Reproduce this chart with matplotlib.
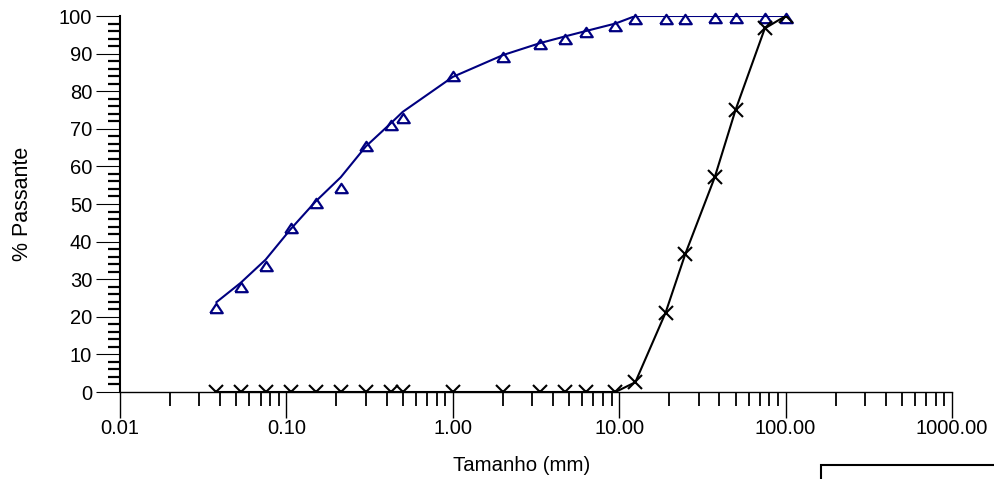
import numpy as np
import matplotlib
matplotlib.use("Agg")
import matplotlib.pyplot as plt
from matplotlib.ticker import FixedLocator, NullFormatter
from matplotlib.patches import Rectangle

plt.rcParams['font.family'] = ['Liberation Sans', 'DejaVu Sans']

# peneiras (mm)
tam_fino = [0.038, 0.053, 0.075, 0.106, 0.15, 0.212, 0.3, 0.425, 0.5, 1.0, 2.0,
            3.35, 4.75, 6.3, 9.5, 12.5, 19.0, 25.0, 37.5, 50.0, 75.0, 100.0]
pass_fino = [22.4, 27.9, 33.4, 43.6, 50.2, 54.2, 65.4, 71.1, 73.0, 84.0, 89.1,
             92.5, 94.0, 95.7, 97.3, 99.3, 99.3, 99.3, 99.4, 99.4, 99.4, 99.5]
ajuste_fino = [23.9, 29.0, 35.2, 43.3, 50.7, 57.1, 65.3, 71.5, 74.5, 83.8, 89.6,
               92.8, 94.6, 96.0, 98.0, 100.0, 100.0, 100.0, 100.0, 100.0, 100.0, 100.0]

tam_grosso = [0.038, 0.053, 0.075, 0.106, 0.15, 0.212, 0.3, 0.425, 0.5, 1.0, 2.0,
              3.35, 4.75, 6.3, 9.5, 12.5, 19.0, 25.0, 37.5, 50.0, 75.0, 100.0]
pass_grosso = [0, 0, 0, 0, 0, 0, 0, 0, 0, 0, 0,
               0, 0, 0, 0, 2.6, 21.1, 36.8, 57.1, 75.0, 96.7, 100.0]

xticks = [0.01, 0.1, 1, 10, 100, 1000]
xlabels = ['0.01', '0.10', '1.00', '10.00', '100.00', '1000.00']
yticks = list(range(0, 101, 10))

fig = plt.figure(figsize=[9.94, 4.79], dpi=100)
ax = fig.add_axes([120/994, 1-392/479, 832/994, 376/479])

navy = '#000080'
tri = [(-1, -0.75), (1, -0.75), (0, 0.75), (-1, -0.75)]

ax.plot(tam_fino, ajuste_fino, color=navy, lw=1.5, zorder=3)
ax.plot(tam_fino, pass_fino, ls='none', marker=tri, ms=9, mfc='none',
        mec=navy, mew=1.6, clip_on=False, zorder=4)
ax.plot(tam_grosso, pass_grosso, color='black', lw=1.5, marker='x', ms=10.5,
        mew=1.5, zorder=5)

ax.set_xscale('log')
ax.set_xlim(0.01, 1000)
ax.set_ylim(0, 100)

ax.spines['top'].set_visible(False)
ax.spines['right'].set_visible(False)
ax.spines['left'].set_linewidth(1.5)
ax.spines['bottom'].set_linewidth(1.0)

ax.xaxis.set_major_locator(FixedLocator(xticks))
ax.set_xticklabels(xlabels)
minx = [m * d for d in [0.01, 0.1, 1, 10, 100] for m in range(2, 10)]
ax.xaxis.set_minor_locator(FixedLocator(minx))
ax.xaxis.set_minor_formatter(NullFormatter())
ax.set_yticks(yticks)
ax.yaxis.set_minor_locator(FixedLocator([v for v in range(0, 101, 2) if v % 10]))

ax.tick_params(axis='x', which='major', direction='out', length=18.5, width=1.0,
               pad=1, labelsize=14.5)
ax.tick_params(axis='x', which='minor', direction='out', length=10, width=1.3)
ax.tick_params(axis='y', which='major', direction='out', length=17, width=0.8,
               pad=3, labelsize=14.5)
ax.tick_params(axis='y', which='minor', direction='out', length=9, width=1.6)

ax.set_xlabel('Tamanho (mm)', fontsize=14.7)
ax.set_ylabel('% Passante', fontsize=15.5)
ax.xaxis.set_label_coords(0.483, -0.17)
ax.yaxis.set_label_coords(-0.104, 0.5)

# moldura da legenda (parcial)
fig.add_artist(Rectangle((821/994, -0.2), 0.5, 0.2 + 1 - 465/479,
                         transform=fig.transFigure, fill=False, lw=1.5,
                         ec='black', clip_on=False))

fig.savefig('out.png', dpi=100)
